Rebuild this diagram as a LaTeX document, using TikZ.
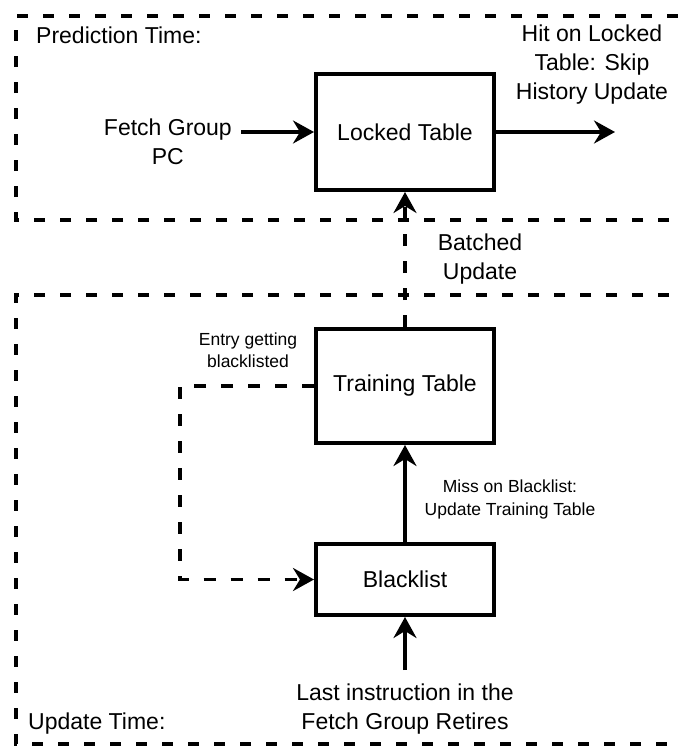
\documentclass[tikz,border=0pt]{standalone}
\usepackage{fontspec}
\setmainfont{Liberation Sans}
\usetikzlibrary{arrows.meta}

\tikzset{
  big/.style={font=\fontsize{23}{29}\selectfont},
  small/.style={font=\fontsize{17.5}{22.5}\selectfont},
  frame/.style={line width=3.6pt, dash pattern=on 11pt off 15pt},
  blk/.style={draw, line width=4pt, minimum width=178pt, big, inner sep=0pt},
  arr/.style={line width=3.4pt, -{Stealth[length=21pt,width=23pt,inset=7pt]}},
  dasharr/.style={arr, dash pattern=on 12pt off 15pt},
}

\begin{document}
\begin{tikzpicture}[x=1pt, y=-1pt]
  \useasboundingbox (0,0) rectangle (681,747);

  % stage frames (open to the right)
  \draw[frame] (695,220) -- (16,220) -- (16,16) -- (695,16);
  \draw[frame] (695,295) -- (16,295) -- (16,744) -- (695,744);

  \node[big, anchor=west, inner sep=0pt] (predlbl) at (36,35) {Prediction Time:};
  \node[big, anchor=west, inner sep=0pt] (updlbl) at (28,724) {Update Time:};

  % tables
  \node[blk, minimum height=116pt] (locked) at (405,132) {Locked Table};
  \node[blk, minimum height=114pt] (train) at (405,386) {Training Table};
  \node[blk, minimum height=71pt] (black) at (405,579.5) {Blacklist};

  % prediction path
  \node[big, align=center, inner xsep=9pt, inner ysep=0pt, anchor=east] (fetch) at (241,142) {Fetch Group\\PC};
  \draw[arr] (locked.west -| fetch.east) -- (locked.west);

  \coordinate (out) at (615,132);
  \draw[arr] (locked.east) -- (out);
  \node[big, align=center] (hit) at (592,65) {Hit on Locked\\Table: Skip\\History Update};

  % batched update
  \draw[dasharr] (train.north) -- (locked.south);
  \node[big, align=center] (batch) at (480,259) {Batched\\Update};

  % blacklisting loop
  \coordinate (bend) at (180,0);
  \draw[dasharr] (train.west) -- (train.west -| bend) -- (black.west -| bend) -- (black.west);
  \node[small, align=center] (entry) at (248,350) {Entry getting\\blacklisted};

  \draw[arr] (black.north) -- (train.south);
  \node[small, align=center] (miss) at (510,499.5) {Miss on Blacklist:\\Update Training Table};

  % retirement input
  \node[big, align=center] (retire) at (405,709.5) {Last instruction in the\\Fetch Group Retires};
  \coordinate (retin) at (405,670);
  \draw[arr] (retin) -- (black.south);
\end{tikzpicture}
\end{document}
